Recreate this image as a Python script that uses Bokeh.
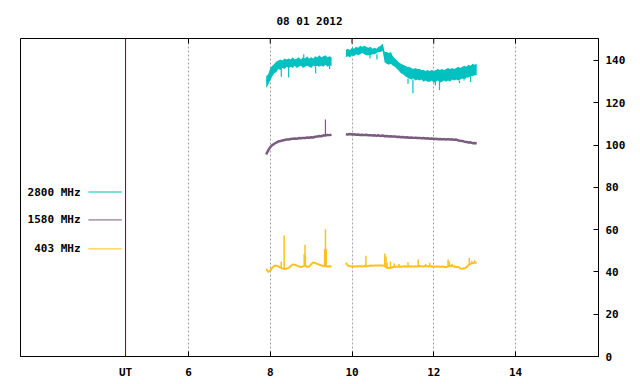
import numpy as np
from bokeh.plotting import figure
from bokeh.models import Range1d, FixedTicker, Span, Title
from bokeh.core.properties import value
from bokeh.embed import file_html
from bokeh.resources import INLINE

# ---------------- data ----------------
title_text = "08 01 2012"
series_names = ["2800 MHz", "1580 MHz", "403 MHz"]
x_ticks = [6, 8, 10, 12, 14]
y_ticks = [0, 20, 40, 60, 80, 100, 120, 140]
ut_hour = 4.46

t1 = [7.90, 7.95, 8.00, 8.05, 8.10, 8.15, 8.20, 8.25, 8.30, 8.35, 8.40,
      8.45, 8.50, 8.55, 8.60, 8.65, 8.70, 8.75, 8.80, 8.85, 8.90, 8.95,
      9.00, 9.05, 9.10, 9.15, 9.20, 9.25, 9.30, 9.35, 9.40, 9.45, 9.50]
t2 = [9.85, 9.90, 9.95, 10.00, 10.05, 10.10, 10.15, 10.20, 10.25, 10.30,
      10.35, 10.40, 10.45, 10.50, 10.55, 10.60, 10.65, 10.70, 10.75, 10.80,
      10.85, 10.90, 10.95, 11.00, 11.05, 11.10, 11.15, 11.20, 11.25, 11.30,
      11.35, 11.40, 11.45, 11.50, 11.55, 11.60, 11.65, 11.70, 11.75, 11.80,
      11.85, 11.90, 11.95, 12.00, 12.05, 12.10, 12.15, 12.20, 12.25, 12.30,
      12.35, 12.40, 12.45, 12.50, 12.55, 12.60, 12.65, 12.70, 12.75, 12.80,
      12.85, 12.90, 12.95, 13.00, 13.05]

# 2800 MHz: noise band (low / high envelope)
f2800_lo1 = [127.0, 128.5, 130.5, 132.5, 134.0, 134.5, 136.0, 135.5, 136.5, 136.0, 137.0,
             136.5, 137.0, 136.5, 137.5, 136.5, 137.0, 137.5, 136.5, 137.0, 137.5, 137.0,
             136.5, 137.5, 137.0, 137.5, 137.0, 137.5, 137.0, 138.0, 137.0, 137.5, 137.5]
f2800_hi1 = [132.5, 133.5, 136.5, 137.5, 138.5, 139.5, 140.0, 140.5, 140.0, 141.0, 140.5,
             141.0, 140.5, 141.5, 140.5, 141.0, 141.5, 140.5, 141.5, 141.0, 142.0, 141.0,
             141.5, 141.0, 142.0, 141.5, 142.5, 141.5, 142.0, 142.5, 141.5, 142.0, 141.5]
f2800_lo2 = [141.5, 142.0, 141.5, 142.5, 142.0, 143.0, 142.5, 143.0, 143.5, 143.0,
             142.5, 142.5, 142.5, 143.0, 143.0, 143.5, 144.0, 144.0, 144.5, 139.0,
             138.5, 138.0, 138.5, 137.5, 137.0, 136.0, 135.0, 134.0, 133.5, 132.5,
             132.0, 131.5, 131.0, 131.5, 130.5, 131.0, 130.5, 131.0, 130.0, 130.5,
             130.0, 130.0, 130.5, 129.5, 130.0, 130.5, 129.5, 130.0, 130.5, 130.0,
             130.5, 130.0, 131.0, 130.5, 131.0, 130.5, 131.0, 131.5, 131.0, 132.0,
             132.0, 132.5, 132.5, 133.0, 133.0]
f2800_hi2 = [145.0, 145.5, 145.0, 146.0, 145.5, 146.5, 146.0, 147.0, 146.5, 147.0,
             146.5, 146.0, 146.5, 145.5, 146.0, 145.5, 146.5, 147.0, 148.0, 144.0,
             144.0, 143.5, 144.0, 142.0, 141.0, 140.0, 139.0, 138.5, 138.0, 137.5,
             137.0, 137.0, 136.5, 136.0, 136.5, 136.0, 136.0, 135.5, 135.5, 135.0,
             135.5, 135.0, 135.5, 135.0, 135.5, 136.0, 135.5, 136.0, 135.5, 136.0,
             136.5, 136.0, 136.5, 136.0, 136.5, 137.0, 136.5, 137.0, 137.5, 137.0,
             138.0, 137.5, 138.5, 138.0, 138.5]
f2800_spike_t = [8.27, 8.45, 8.82, 9.11, 9.45, 10.44, 10.61, 11.37, 11.49, 12.04, 12.14, 12.63, 12.74, 12.90]
f2800_spike_a = [136.0, 137.0, 141.0, 137.0, 137.5, 142.5, 143.0, 131.5, 131.0, 130.0, 130.0, 130.5, 131.0, 132.5]
f2800_spike_b = [132.3, 132.0, 143.0, 134.0, 136.0, 141.0, 140.5, 129.0, 124.5, 128.2, 126.1, 129.3, 130.5, 129.8]

# 1580 MHz
f1580_1 = [95.5, 97.5, 99.0, 100.0, 100.6, 101.2, 101.7, 101.9, 102.2, 102.4, 102.6,
           102.6, 102.9, 103.0, 103.1, 103.0, 103.3, 103.2, 103.4, 103.3, 103.6, 103.5,
           103.7, 103.6, 103.9, 104.0, 104.3, 104.1, 104.6, 104.5, 104.8, 104.7, 104.9]
f1580_2 = [105.1, 105.0, 105.2, 105.0, 105.1, 104.9, 105.0, 104.8, 104.9, 104.7,
           104.9, 104.6, 104.7, 104.5, 104.6, 104.4, 104.6, 104.3, 104.5, 104.2,
           104.3, 104.1, 104.2, 104.0, 104.1, 103.8, 103.9, 103.7, 103.8, 103.6,
           103.7, 103.5, 103.6, 103.4, 103.5, 103.3, 103.4, 103.2, 103.3, 103.1,
           103.2, 103.0, 103.1, 102.9, 103.0, 102.8, 102.9, 102.7, 102.8, 102.6,
           102.8, 102.6, 102.7, 102.5, 102.6, 102.2, 102.0, 101.9, 101.6, 101.5,
           101.2, 101.3, 100.9, 101.0, 100.7]
f1580_spike_t = [9.35]
f1580_spike_a = [104.5]
f1580_spike_b = [112.1]

# 403 MHz
f403_1 = [41.5, 40.0, 40.6, 42.0, 42.9, 43.0, 42.6, 42.0, 41.6, 41.4, 41.6,
          41.9, 42.8, 43.5, 43.4, 43.0, 42.6, 42.3, 42.6, 43.0, 42.4, 42.5,
          43.6, 44.5, 44.2, 43.8, 43.4, 43.0, 42.8, 42.7, 42.6, 42.7, 42.6]
f403_2 = [44.3, 43.0, 42.7, 42.6, 42.7, 42.6, 42.7, 42.7, 42.6, 42.8,
          42.7, 42.8, 43.0, 42.9, 43.0, 43.1, 43.0, 43.1, 43.0, 42.8,
          42.0, 41.9, 42.0, 42.3, 42.6, 42.5, 42.6, 42.5, 42.6, 42.7,
          42.5, 42.6, 42.7, 42.6, 42.7, 42.6, 42.8, 42.7, 42.6, 42.8,
          42.7, 42.6, 42.7, 42.5, 42.6, 42.6, 42.5, 42.6, 42.4, 42.2,
          42.6, 42.9, 42.8, 42.6, 42.3, 42.3, 41.6, 41.5, 41.7, 42.2,
          43.2, 43.8, 44.2, 44.3, 44.5]
f403_spike_t = [8.27, 8.34, 8.83, 8.85, 8.86, 9.33, 9.34, 9.35, 9.36, 9.37,
                10.34, 10.80, 10.83, 10.86, 10.94, 11.03, 11.15, 11.37, 11.62, 11.80,
                11.90, 12.35, 12.38, 12.45, 12.87, 12.93, 13.00]
f403_spike_a = [41.8, 41.4, 42.8, 43.0, 42.8, 42.8, 42.8, 42.7, 42.7, 42.7,
                42.7, 42.8, 42.2, 42.0, 42.0, 42.3, 42.6, 42.5, 42.6, 42.8,
                42.6, 42.6, 42.8, 42.8, 43.2, 43.8, 44.3]
f403_spike_b = [44.9, 57.2, 48.5, 52.8, 47.5, 50.9, 51.0, 60.2, 50.9, 50.5,
                47.7, 48.7, 47.3, 44.5, 44.9, 44.0, 43.8, 44.6, 45.9, 43.8,
                44.3, 45.9, 44.9, 43.8, 46.7, 45.3, 45.5]

# ---------------- styles / layout ----------------
C2800 = "#00c0c0"
C1580 = "#7a5c7e"
C403 = "#ffc020"
FONT = "DejaVu Sans Mono"
FS = "11px"

X_MIN, X_MAX = 1.89, 16.03
Y_MIN, Y_MAX = 0.0, 150.4
FRAME_H = 318
TICK_PX = 5

p = figure(width=640, height=384, output_backend="svg", toolbar_location=None,
           x_range=Range1d(X_MIN, X_MAX), y_range=Range1d(Y_MIN, Y_MAX),
           y_axis_location="right",
           min_border_left=20, min_border_right=42, min_border_top=38, min_border_bottom=28)
p.background_fill_color = "white"
p.border_fill_color = "white"
p.outline_line_color = "black"
p.outline_line_alpha = 1.0
p.outline_line_width = 1

# title
p.title = Title(text=title_text, align="center", text_font=FONT, text_font_size=FS,
                text_font_style="bold", text_color="black", standoff=21)

# x grid
p.ygrid.visible = False
p.xgrid.ticker = FixedTicker(ticks=x_ticks)
p.xgrid.grid_line_color = "#a0a0a0"
p.xgrid.grid_line_dash = "2 2"
p.xgrid.grid_line_width = 1

# bottom axis
xa = p.xaxis[0]
xa.ticker = FixedTicker(ticks=[ut_hour] + x_ticks)
xa.major_label_overrides = {ut_hour: "UT"}
xa.major_tick_in = TICK_PX
xa.major_tick_out = 0
xa.minor_tick_line_color = None
xa.axis_line_color = "black"
xa.major_label_standoff = 9
xa.major_label_text_font = FONT
xa.major_label_text_font_size = FS
xa.major_label_text_font_style = "bold"
xa.major_label_text_color = "black"

# right axis
ya = p.yaxis[0]
ya.ticker = FixedTicker(ticks=y_ticks)
ya.major_tick_in = TICK_PX
ya.major_tick_out = 0
ya.minor_tick_line_color = None
ya.axis_line_color = "black"
ya.major_label_standoff = 7
ya.major_label_text_font = FONT
ya.major_label_text_font_size = FS
ya.major_label_text_font_style = "bold"
ya.major_label_text_color = "black"

# top border ticks (inward), derived from the x ticks and the y range
tick_len = TICK_PX * (Y_MAX - Y_MIN) / FRAME_H
p.segment(x0=x_ticks, y0=[Y_MAX] * len(x_ticks), x1=x_ticks,
          y1=[Y_MAX - tick_len] * len(x_ticks), line_color="black", line_width=1)

# UT separator
p.add_layout(Span(location=ut_hour, dimension="height", line_color="#8b0000", line_width=1))

# 2800 MHz
p.varea(x=t1, y1=f2800_lo1, y2=f2800_hi1, fill_color=C2800)
p.varea(x=t2, y1=f2800_lo2, y2=f2800_hi2, fill_color=C2800)
p.segment(x0=f2800_spike_t, y0=f2800_spike_a, x1=f2800_spike_t, y1=f2800_spike_b,
          line_color=C2800, line_width=1.2)

# 1580 MHz
p.line(t1, f1580_1, line_color=C1580, line_width=2.5)
p.line(t2, f1580_2, line_color=C1580, line_width=2.5)
p.segment(x0=f1580_spike_t, y0=f1580_spike_a, x1=f1580_spike_t, y1=f1580_spike_b,
          line_color=C1580, line_width=1.2)

# 403 MHz
p.line(t1, f403_1, line_color=C403, line_width=2)
p.line(t2, f403_2, line_color=C403, line_width=2)
p.segment(x0=f403_spike_t, y0=f403_spike_a, x1=f403_spike_t, y1=f403_spike_b,
          line_color=C403, line_width=1.5)

# legend (labels to the left of the line samples, inside the frame)
leg_y = [77.8, 64.6, 50.9]
leg_text_x = 3.36
leg_x0, leg_x1 = 3.55, 4.37
leg_colors = [C2800, C1580, C403]
p.text(x=[leg_text_x] * 3, y=leg_y, text=series_names, text_align="right",
       text_baseline="middle", text_font=value(FONT), text_font_size=FS,
       text_font_style="bold", text_color="black")
p.segment(x0=[leg_x0] * 3, y0=leg_y, x1=[leg_x1] * 3, y1=leg_y,
          line_color=leg_colors, line_width=1)

open("out.html", "w").write(file_html(p, INLINE))
